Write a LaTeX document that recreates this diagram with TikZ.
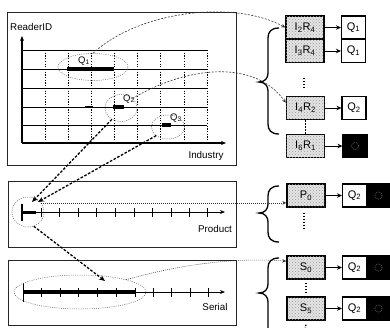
\documentclass[tikz,border=0pt]{standalone}
\usepackage{fontspec}
\setmainfont{Liberation Sans}
\usetikzlibrary{arrows.meta,shapes.geometric,patterns}
\newcommand{\drawbrace}[3]{%
 \draw[brace] (279,#1) .. controls (271,#1) and (268,#1+4) .. (268,#1+10) -- (268,#2-9) .. controls (268,#2-4) and (265,#2) .. (259,#2) .. controls (265,#2) and (268,#2+4) .. (268,#2+9) -- (268,#3-10) .. controls (268,#3-4) and (271,#3) .. (279,#3);}
\begin{document}
\begin{tikzpicture}[x=1pt,y=-1pt,
  panel/.style={draw=black!85, line width=0.8pt},
  gridh/.style={line width=1pt},
  gridv/.style={line width=0.8pt, dash pattern=on 1.2pt off 1.5pt},
  axis/.style={line width=1.3pt, -{Stealth[length=5pt,width=4pt]}},
  thinaxis/.style={line width=0.9pt, -{Stealth[length=5pt,width=4pt]}},
  qseg/.style={line width=3.2pt},
  ell/.style={ellipse, draw=black!60, line width=0.5pt, dash pattern=on 1pt off 1.2pt, inner sep=0pt},
  bigarrow/.style={line width=1.3pt, dash pattern=on 2.6pt off 1.6pt, -{Stealth[length=6pt,width=5pt]}},
  link/.style={line width=0.6pt, dash pattern=on 2pt off 1.5pt, draw=black!80, -{Stealth[length=4pt,width=3.5pt]}},
  dlink/.style={line width=0.6pt, dash pattern=on 0.8pt off 1.2pt, draw=black!80, -{Stealth[length=4pt,width=3.5pt]}},
  ibox/.style={draw, line width=1.4pt, fill=black!10, postaction={pattern=crosshatch dots, pattern color=black!40}, minimum width=38pt, minimum height=23pt, inner sep=0pt, font=\fontsize{11}{11}\selectfont},
  qbox/.style={draw, line width=1.1pt, fill=white, minimum width=24pt, minimum height=23pt, inner sep=0pt, font=\fontsize{11}{11}\selectfont},
  bbox/.style={draw, line width=1.1pt, fill=black, minimum width=24pt, minimum height=23pt, inner sep=0pt},
  harrow/.style={line width=1pt, -{Stealth[length=5pt,width=4.5pt]}},
  vdots/.style={line width=1.3pt, dash pattern=on 1.3pt off 1.7pt},
  brace/.style={line width=1.3pt},
  lbl/.style={font=\fontsize{9.8}{9.8}\selectfont, inner sep=0pt},
  qlbl/.style={font=\fontsize{9.5}{9.5}\selectfont, inner sep=0pt},
  circ/.style={draw=black!55, line width=0.5pt, dash pattern=on 0.8pt off 1pt},
]
\useasboundingbox (0,0) rectangle (390,327);

% ---------- panels
\draw[panel] (7,12) rectangle (236,165);
\draw[panel] (8,181) rectangle (236,247);
\draw[panel] (8,260) rectangle (236,325);

% ---------- top panel grid
\foreach \y in {50,69,88,107,125} \draw[gridh] (22,\y) -- (207,\y);
\foreach \x in {45,68,91,114,137,160,184,207} \draw[gridv] (\x,50) -- (\x,143);
\draw[axis] (22,143) -- (22,36);
\draw[axis] (22,143) -- (226,143);
\node[lbl, anchor=west] (rid) at (10,27) {ReaderID};
\node[lbl] (ind) at (206,156) {Industry};

\draw[qseg] (67,69) -- (114,69);
\draw[qseg] (113,107) -- (124,107);
\draw[qseg] (162,125) -- (171,125);
\draw[line width=1.6pt] (85,107) -- (93,107);
\node[qlbl] (lq1) at (84,61) {Q\textsubscript{1}};
\node[qlbl] (lq2) at (129,99) {Q\textsubscript{2}};
\node[qlbl] (lq3) at (176,118) {Q\textsubscript{3}};
\node[ell, minimum width=70pt, minimum height=27pt] (eQ1) at (93,67) {};
\node[ell, minimum width=32pt, minimum height=27pt] (eQ2) at (121,108) {};
\node[ell, minimum width=33pt, minimum height=24pt] (eQ3) at (168,127) {};

% ---------- product panel
\draw[thinaxis] (22,212) -- (225,212);
\draw[line width=3pt] (22,212) -- (36,212);
\draw[line width=2pt] (22,204) -- (22,221);
\foreach \x in {41,59,78,96,115,134,152,171,189,207} \draw[line width=0.9pt] (\x,208) -- (\x,217);
\node[lbl] (prod) at (215,229) {Product};
\node[ell, minimum width=32pt, minimum height=30pt] (eP) at (28,212) {};

% ---------- serial panel
\draw[thinaxis] (23,292) -- (225,292);
\draw[line width=3.5pt] (23,292) -- (135,292);
\draw[line width=1pt] (23,283) -- (23,302);
\foreach \x in {41,60,78,97,116,135,153,171,190,208} \draw[line width=0.9pt] (\x,288) -- (\x,297);
\node[lbl] (ser) at (215,307) {Serial};
\node[ell, minimum width=132pt, minimum height=34pt] (eS) at (80,292) {};

% ---------- right side boxes
\node[ibox] (I2R4) at (305,27.5) {I\textsubscript{2}R\textsubscript{4}};
\node[ibox] (I3R4) at (305,51) {I\textsubscript{3}R\textsubscript{4}};
\node[qbox] (Q1a) at (353.5,27.5) {Q\textsubscript{1}};
\node[qbox] (Q1b) at (353.5,51) {Q\textsubscript{1}};
\node[ibox] (I4R2) at (305.5,108) {I\textsubscript{4}R\textsubscript{2}};
\node[qbox] (Q2a) at (354,108) {Q\textsubscript{2}};
\node[ibox] (I6R1) at (305.5,146) {I\textsubscript{6}R\textsubscript{1}};
\node[bbox] (B1) at (355,146) {};

\node[ibox] (P0) at (306,195.5) {P\textsubscript{0}};
\node[qbox] (Q2b) at (354.5,195.5) {Q\textsubscript{2}};
\node[bbox] (B2) at (378.5,195.5) {};
\node[ibox] (S0) at (306,267.5) {S\textsubscript{0}};
\node[qbox] (Q2c) at (354.5,267.5) {Q\textsubscript{2}};
\node[bbox] (B3) at (378.5,267.5) {};
\node[ibox] (S5) at (306,308.5) {S\textsubscript{5}};
\node[qbox] (Q2d) at (354.5,308.5) {Q\textsubscript{2}};
\node[bbox] (B4) at (378.5,308.5) {};

\foreach \b in {B1,B2,B3,B4} \draw[circ] (\b) circle (3.6pt);

\draw[harrow] (I2R4) -- (Q1a);
\draw[harrow] (I3R4) -- (Q1b);
\draw[harrow] (I4R2) -- (Q2a);
\draw[harrow] (I6R1) -- (B1);
\draw[harrow] (P0) -- (Q2b);
\draw[harrow] (S0) -- (Q2c);
\draw[harrow] (S5) -- (Q2d);

\coordinate (d1a) at (304,78); \coordinate (d1b) at (304,89);
\draw[vdots] (d1a) -- (d1b);
\draw[vdots] (I4R2.south) -- (I6R1.north);
\coordinate (d2) at (304,229);
\draw[vdots] ([yshift=-5pt]P0.south -| d2) -- (d2);
\draw[vdots] ([yshift=-3pt]S0.south) -- ([yshift=3pt]S5.north);
\coordinate (d3) at (305,330);
\draw[vdots] ([yshift=-4pt]S5.south) -- (d3);

% ---------- braces
\drawbrace{28}{82}{134}
\drawbrace{186}{213}{242}
\drawbrace{258}{293}{345}

% ---------- connectors
\draw[link] (eQ1.north) .. controls (140,10) and (235,0) .. (I2R4.west);
\draw[link] (eQ2.40) .. controls (190,65) and (255,60) .. (I4R2.165);
\draw[dlink] (eP.35) -- (eP.35 -| P0.west);
\draw[dlink] (eS.15) .. controls (190,262) and (240,258) .. (S0.162);

\coordinate (pa) at (32,202);
\coordinate (pb) at (38,202);
\coordinate (sa) at (105,281);
\draw[bigarrow] (eQ2.231) -- (pa);
\draw[bigarrow] (eQ3.216) -- (pb);
\draw[bigarrow] (eP.-68) -- (sa);
\end{tikzpicture}
\end{document}
